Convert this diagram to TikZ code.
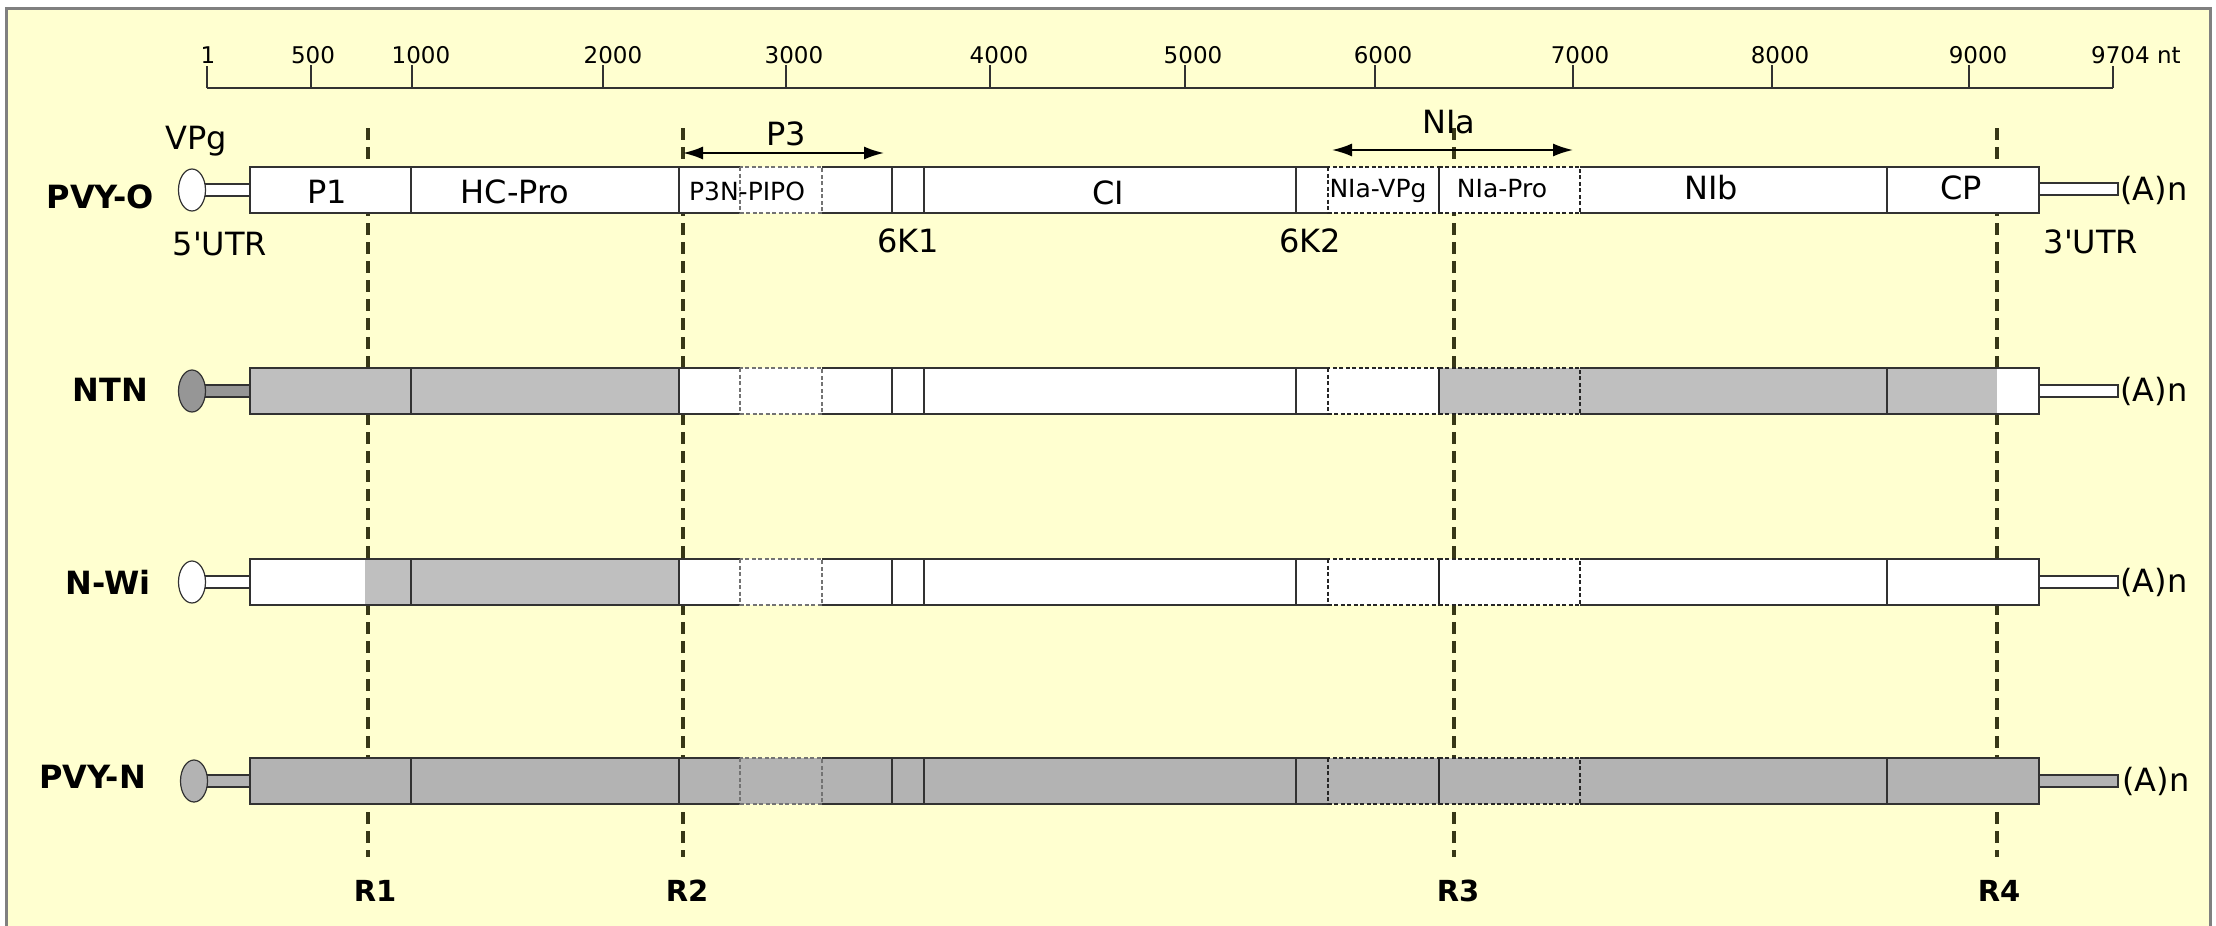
\documentclass[tikz,border=0pt]{standalone}
\usepackage{fontspec}
\setmainfont{DejaVu Sans}
\usetikzlibrary{shapes.geometric,arrows.meta}

\definecolor{bgyellow}{RGB}{255,255,208}
\definecolor{framegray}{RGB}{128,128,128}
\definecolor{hitgray}{RGB}{191,191,191}
\definecolor{ngray}{RGB}{179,179,179}
\definecolor{capgray}{RGB}{150,150,150}
\definecolor{edge}{RGB}{50,50,50}
\definecolor{rdash}{RGB}{55,55,22}

\begin{document}
\begin{tikzpicture}[x=1pt,y=-1pt,
  bar/.style={draw=edge,line width=1.8pt},
  pipo/.style={draw=black!55,line width=1.6pt,dash pattern=on 4pt off 2.5pt},
  niabox/.style={draw=black!85,line width=1.9pt,dash pattern=on 4pt off 2.5pt},
  tail/.style={draw=edge,line width=1.5pt},
  vpgcap/.style={ellipse,draw=edge,line width=1.2pt,minimum width=27pt,minimum height=42pt,inner sep=0pt},
  rline/.style={draw=rdash,line width=3.6pt,dash pattern=on 12pt off 7pt},
  scaleline/.style={draw=edge,line width=1.8pt},
  ruler/.style={font=\fontsize{23}{26}\selectfont,inner sep=0pt},
  gene/.style={font=\fontsize{32}{36}\selectfont,inner sep=0pt},
  tag/.style={font=\fontsize{25}{28}\selectfont,inner sep=0pt},
  strain/.style={font=\fontsize{32}{35}\selectfont\bfseries,inner sep=0pt,anchor=east},
  rlabel/.style={font=\fontsize{29}{32}\selectfont\bfseries,inner sep=0pt},
  spanarrow/.style={draw=black,line width=1.8pt,{Latex[length=20pt,width=13pt]}-{Latex[length=20pt,width=13pt]}},
  pics/orf/.style={code={
    \draw[bar] (740,-23) -| (250,23) -- (740,23) (822,-23) -- (1328,-23) (822,23) -- (1328,23) (1580,-23) -| (2039,23) -- (1580,23);
    \draw[bar] (411,-23) -- (411,23) (679,-23) -- (679,23) (892,-23) -- (892,23) (924,-23) -- (924,23) (1296,-23) -- (1296,23) (1887,-23) -- (1887,23);
    \draw[pipo] (740,-23) rectangle (822,23);
    \draw[niabox] (1328,-23) rectangle (1439,23) (1439,-23) rectangle (1580,23);
  }}]
 \useasboundingbox (0,0) rectangle (2216,926);
 \fill[white] (0,0) rectangle (2216,926);
 \fill[bgyellow] (6,8) rectangle (2210,926);
 \draw[framegray,line width=3pt] (6,926) -- (6,8) -- (2210,8) -- (2210,926);

 \draw[scaleline] (207,88) -- (2113,88);
 \draw[scaleline] (207,88) -- (207,66);
 \draw[scaleline] (311,88) -- (311,65);
 \draw[scaleline] (412,88) -- (412,65);
 \draw[scaleline] (603,88) -- (603,65);
 \draw[scaleline] (786,88) -- (786,65);
 \draw[scaleline] (990,88) -- (990,65);
 \draw[scaleline] (1185,88) -- (1185,65);
 \draw[scaleline] (1375,88) -- (1375,65);
 \draw[scaleline] (1573,88) -- (1573,65);
 \draw[scaleline] (1772,88) -- (1772,65);
 \draw[scaleline] (1969,88) -- (1969,65);
 \draw[scaleline] (2113,88) -- (2113,66);
 \node (t1) at (208,55) [ruler] {1};
 \node (t500) at (313,55) [ruler] {500};
 \node (t1000) at (421,55) [ruler] {1000};
 \node (t2000) at (613,55) [ruler] {2000};
 \node (t3000) at (794,55) [ruler] {3000};
 \node (t4000) at (999,55) [ruler] {4000};
 \node (t5000) at (1193,55) [ruler] {5000};
 \node (t6000) at (1383,55) [ruler] {6000};
 \node (t7000) at (1580,55) [ruler] {7000};
 \node (t8000) at (1780,55) [ruler] {8000};
 \node (t9000) at (1978,55) [ruler] {9000};
 \node (t9704) at (2091,55) [ruler,anchor=west] {9704 nt};

 \coordinate (r1 top) at (368,128);
 \coordinate (r1 bot) at (368,857);
 \coordinate (r2 top) at (683,128);
 \coordinate (r2 bot) at (683,857);
 \coordinate (r3 top) at (1454,128);
 \coordinate (r3 bot) at (1454,857);
 \coordinate (r4 top) at (1997,128);
 \coordinate (r4 bot) at (1997,857);
 \draw[rline] (r1 top) -- (r1 bot);
 \draw[rline] (r2 top) -- (r2 bot);
 \draw[rline] (r3 top) -- (r3 bot);
 \draw[rline] (r4 top) -- (r4 bot);
 \node (r1) at (375,891) [rlabel] {R1};
 \node (r2) at (687,891) [rlabel] {R2};
 \node (r3) at (1458,891) [rlabel] {R3};
 \node (r4) at (1999,891) [rlabel] {R4};

 \fill[white] (250,167) rectangle (2039,213);
 \pic at (0,190) {orf};
 \draw[tail,fill=white] (200,184) rectangle (250,196);
 \draw[tail,fill=white] (2039,183) rectangle (2118,195);
 \node (vpg o) at (192,190) [vpgcap,fill=white] {};
 \node (pvyo) at (154,197) [strain] {PVY-O};
 \node (an o) at (2120,190) [gene,anchor=west] {(A)n};

 \fill[hitgray] (250,368) rectangle (679,414);
 \fill[white] (679,368) rectangle (1439,414);
 \fill[hitgray] (1439,368) rectangle (1997,414);
 \fill[white] (1997,368) rectangle (2039,414);
 \pic at (0,391) {orf};
 \draw[tail,fill=capgray] (200,385) rectangle (250,397);
 \draw[tail,fill=white] (2039,385) rectangle (2118,397);
 \node (vpg ntn) at (192,391) [vpgcap,fill=capgray] {};
 \node (ntn) at (148,390) [strain] {NTN};
 \node (an ntn) at (2120,391) [gene,anchor=west] {(A)n};

 \fill[white] (250,559) rectangle (2039,605);
 \fill[hitgray] (365,559) rectangle (679,605);
 \pic at (0,582) {orf};
 \draw[tail,fill=white] (200,576) rectangle (250,588);
 \draw[tail,fill=white] (2039,576) rectangle (2118,588);
 \node (vpg nwi) at (192,582) [vpgcap,fill=white] {};
 \node (nwi) at (151,582) [strain] {N-Wi};
 \node (an nwi) at (2120,582) [gene,anchor=west] {(A)n};

 \fill[ngray] (250,758) rectangle (2039,804);
 \pic at (0,781) {orf};
 \draw[tail,fill=ngray] (200,775) rectangle (250,787);
 \draw[tail,fill=ngray] (2039,775) rectangle (2118,787);
 \node (vpg n) at (194,781) [vpgcap,fill=ngray] {};
 \node (pvyn) at (146,777) [strain] {PVY-N};
 \node (an n) at (2122,781) [gene,anchor=west] {(A)n};

 \node (vpg) at (196,141) [gene] {VPg};
 \node (utr5) at (220,244) [gene] {5\textquotesingle UTR};
 \node (p1) at (327,192) [gene] {P1};
 \node (hcpro) at (515,192) [gene] {HC-Pro};
 \node (p3npipo) at (747,191) [tag] {P3N-PIPO};
 \node (ci) at (1108,193) [gene] {CI};
 \node (niavpg) at (1378,191) [tag] {NIa-VPg};
 \node (niapro) at (1502,189) [tag] {NIa-Pro};
 \node (nib) at (1711,188) [gene] {NIb};
 \node (cp) at (1961,188) [gene] {CP};
 \node (k61) at (908,241) [gene] {6K1};
 \node (k62) at (1310,241) [gene] {6K2};
 \node (utr3) at (2091,242) [gene] {3\textquotesingle UTR};
 \node (p3) at (786,134) [gene] {P3};
 \node (nia) at (1449,122) [gene] {NIa};

 \coordinate (p3 l) at (683,153);
 \coordinate (p3 r) at (884,153);
 \coordinate (nia l) at (1332,150);
 \coordinate (nia r) at (1573,150);
 \draw[spanarrow] (p3 l) -- (p3 r);
 \draw[spanarrow] (nia l) -- (nia r);
\end{tikzpicture}
\end{document}
